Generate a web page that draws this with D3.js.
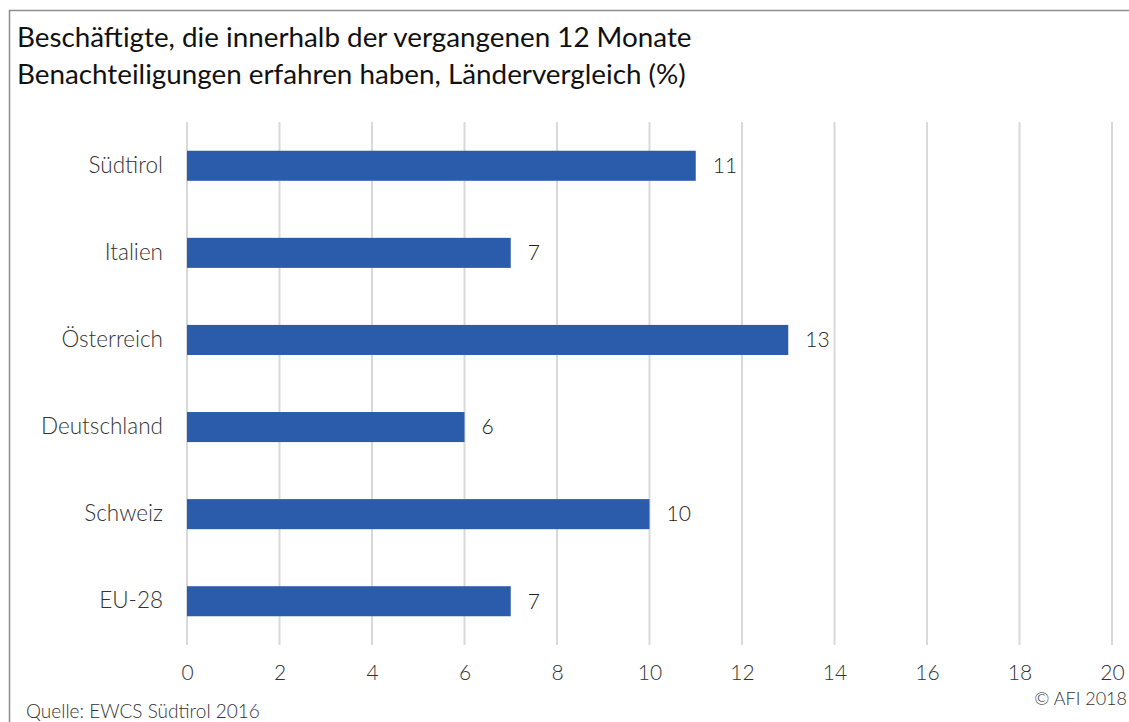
<!DOCTYPE html>
<html>
<head>
<meta charset="utf-8">
<script src="https://cdn.jsdelivr.net/npm/d3@7"></script>
<style>
  body { margin: 0; background: #fff; }
  text { font-family: Lato, "Noto Sans", sans-serif; }
</style>
</head>
<body>
<div id="chart"></div>
<script>
// chart data
var countries = ["Südtirol", "Italien", "Österreich", "Deutschland", "Schweiz", "EU-28"];
var values = [11, 7, 13, 6, 10, 7];
var xTicks = [0, 2, 4, 6, 8, 10, 12, 14, 16, 18, 20];
var titleLines = ["Beschäftigte, die innerhalb der vergangenen 12 Monate",
    "Benachteiligungen erfahren haben, Ländervergleich (%)"];
var sourceText = "Quelle: EWCS Südtirol 2016";
var copyrightText = "© AFI 2018";

var svgwidth = 1129;
var svgheight = 722;

var margin = { top: 122, right: 17, bottom: 77, left: 187 };
var width = svgwidth - margin.left - margin.right;
var height = svgheight - margin.top - margin.bottom;

var svg = d3.select("#chart").append("svg")
    .attr("width", svgwidth)
    .attr("height", svgheight);

// frame
svg.append("path")
    .attr("d", "M9.5,722 V10.5 H1129")
    .attr("fill", "none")
    .attr("stroke", "#8c8c8c")
    .attr("stroke-width", 1.5);

// title
svg.append("g").selectAll("text")
    .data(titleLines)
    .enter().append("text")
    .attr("x", 17)
    .attr("y", (d, i) => 47 + i * 37)
    .attr("font-size", 27.8)
    .attr("fill", "#111")
    .text(d => d);

var chartGroup = svg.append("g")
    .attr("transform", `translate(${margin.left}, ${margin.top})`);

var xScale = d3.scaleLinear().domain([0, 20]).range([0, width]);
var yScale = d3.scaleBand().domain(countries).range([0, height]).paddingInner(0.655).paddingOuter(0.33);

// gridlines
chartGroup.append("g").selectAll("line")
    .data(xTicks)
    .enter().append("line")
    .attr("x1", d => xScale(d))
    .attr("x2", d => xScale(d))
    .attr("y1", 0)
    .attr("y2", height)
    .attr("stroke", "#d9d9d9")
    .attr("stroke-width", 2);

// x axis labels
var xAxis = d3.axisBottom(xScale).tickValues(xTicks).tickSize(0).tickPadding(20);
var xAxisG = chartGroup.append("g")
    .attr("transform", `translate(0, ${height})`)
    .call(xAxis);
xAxisG.select(".domain").remove();
xAxisG.selectAll("text")
    .attr("font-size", 21)
    .attr("font-family", "Lato, sans-serif")
    .attr("font-weight", 300)
    .attr("fill", "#333");

// y axis labels
var yAxis = d3.axisLeft(yScale).tickSize(0).tickPadding(24);
var yAxisG = chartGroup.append("g").call(yAxis);
yAxisG.select(".domain").remove();
yAxisG.selectAll("text")
    .attr("font-size", 22.5)
    .attr("font-family", "Lato, sans-serif")
    .attr("font-weight", 300)
    .attr("fill", "#333");

// bars
chartGroup.append("g").selectAll("rect")
    .data(countries)
    .enter().append("rect")
    .attr("x", xScale(0))
    .attr("y", d => yScale(d))
    .attr("width", (d, i) => xScale(values[i]) - xScale(0))
    .attr("height", yScale.bandwidth())
    .attr("fill", "#2b5cab");

// value labels
chartGroup.append("g").selectAll("text")
    .data(countries)
    .enter().append("text")
    .attr("x", (d, i) => xScale(values[i]) + 17)
    .attr("y", d => yScale(d) + yScale.bandwidth() / 2)
    .attr("dy", "0.35em")
    .attr("font-size", 21)
    .attr("font-weight", 300)
    .attr("fill", "#222")
    .text((d, i) => values[i]);

// footer
svg.append("text")
    .attr("x", 26)
    .attr("y", 718)
    .attr("font-size", 19)
    .attr("font-weight", 300)
    .attr("fill", "#333")
    .text(sourceText);

svg.append("text")
    .attr("x", 1127)
    .attr("y", 705)
    .attr("text-anchor", "end")
    .attr("font-size", 18)
    .attr("font-weight", 300)
    .attr("fill", "#333")
    .text(copyrightText);
</script>
</body>
</html>
